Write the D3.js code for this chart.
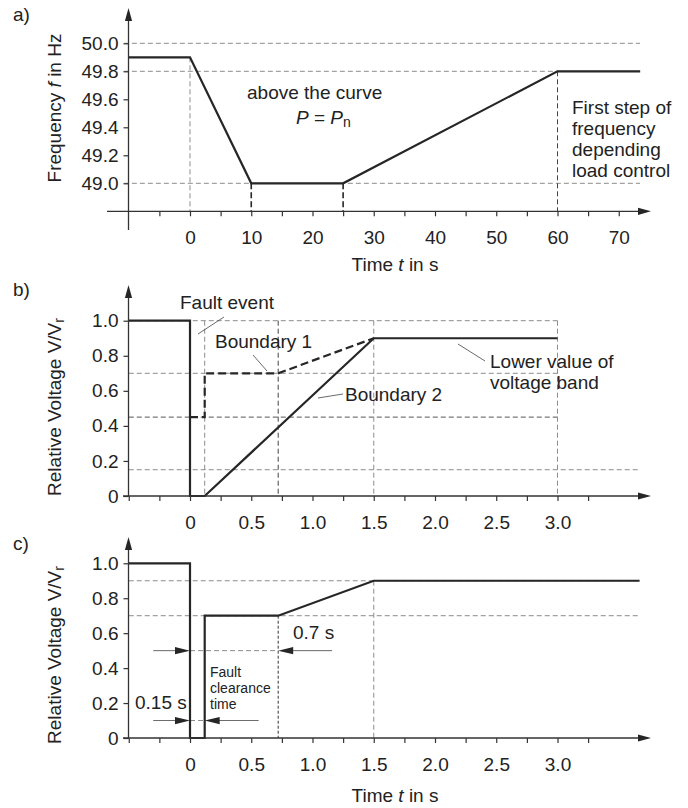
<!DOCTYPE html>
<html>
<head>
<meta charset="utf-8">
<script src="https://cdn.jsdelivr.net/npm/d3@7"></script>
<style>
  body { margin: 0; background: #fff; }
  svg text { font-family: 'Liberation Sans', Arial, sans-serif; fill: #222; }
</style>
</head>
<body>
<svg id="chart" width="688" height="808"></svg>
<script>
// a) frequency
let freqTicks = [49.0, 49.2, 49.4, 49.6, 49.8, 50.0]
let freqTimeTicks = [-5, 0, 5, 10, 15, 20, 25, 30, 35, 40, 45, 50, 55, 60, 65, 70]
let freqTimeLabels = [0, 10, 20, 30, 40, 50, 60, 70]
let freqTime = [-10, 0, 10, 25, 60, 73.5]
let freqValue = [49.9, 49.9, 49.0, 49.0, 49.8, 49.8]
let freqGrid = [50.0, 49.8, 49.0]

// b) boundaries, c) fault clearance
let voltTicks = [0, 0.2, 0.4, 0.6, 0.8, 1.0]
let timeTicks = [-0.5, -0.25, 0, 0.25, 0.5, 0.75, 1, 1.25, 1.5, 1.75, 2, 2.25, 2.5, 2.75, 3, 3.25]
let timeLabels = [0, 0.5, 1, 1.5, 2, 2.5, 3]
let boundary2Time = [-0.5, 0, 0, 0.12, 1.5, 3.0]
let boundary2Value = [1, 1, 0, 0, 0.9, 0.9]
let boundary1Time = [0, 0.12, 0.12, 0.72, 1.5]
let boundary1Value = [0.45, 0.45, 0.7, 0.7, 0.9]
let clearTime = [-0.5, 0, 0, 0.12, 0.12, 0.72, 1.5, 3.67]
let clearValue = [1, 1, 0, 0, 0.7, 0.7, 0.9, 0.9]

let svg = d3.select('#chart')
let ink = '#262626'
let gridColor = '#8c8c8c'
let rightEnd = 640
let fs = 19

let xA = d3.scaleLinear().domain([0, 60]).range([190, 557.5])
let yA = d3.scaleLinear().domain([49, 50]).range([183.3, 43.3])
let xB = d3.scaleLinear().domain([0, 3]).range([190, 557.5])
let yB = d3.scaleLinear().domain([0, 1]).range([496, 320.7])
let yC = d3.scaleLinear().domain([0, 1]).range([738, 563.3])

let oneDec = d3.format('.1f')
let voltFmt = function (d) { return d === 0 ? '0' : oneDec(d) }

function zip (xs, ys) { return xs.map(function (d, i) { return [d, ys[i]] }) }

function hline (x, y, v, t0, t1, color, dash, w) {
  svg.append('line')
    .attr('x1', x(t0)).attr('x2', x(t1))
    .attr('y1', y(v)).attr('y2', y(v))
    .attr('stroke', color).attr('stroke-width', w || 1)
    .attr('stroke-dasharray', dash)
}

function vline (x, y, t, v0, v1, color, dash, w) {
  svg.append('line')
    .attr('x1', x(t)).attr('x2', x(t))
    .attr('y1', y(v0)).attr('y2', y(v1))
    .attr('stroke', color).attr('stroke-width', w || 1)
    .attr('stroke-dasharray', dash)
}

function curve (x, y, pts, dash) {
  svg.append('path')
    .datum(pts)
    .attr('d', d3.line().x(function (d) { return x(d[0]) }).y(function (d) { return y(d[1]) }))
    .attr('fill', 'none')
    .attr('stroke', ink)
    .attr('stroke-width', 2.2)
    .attr('stroke-dasharray', dash)
}

function arrowHead (tipX, tipY, dir, len, half) {
  // dir: 'right', 'left', 'up'
  let p
  if (dir === 'right') p = [[tipX, tipY], [tipX - len, tipY - half], [tipX - len, tipY + half]]
  if (dir === 'left') p = [[tipX, tipY], [tipX + len, tipY - half], [tipX + len, tipY + half]]
  if (dir === 'up') p = [[tipX, tipY], [tipX - half, tipY + len], [tipX + half, tipY + len]]
  svg.append('path').attr('d', 'M' + p.join('L') + 'Z').attr('fill', ink)
}

function axes (x, y, opts) {
  let y0 = y(opts.yBase)
  let gx = svg.append('g')
    .attr('transform', 'translate(0,' + y0 + ')')
    .call(d3.axisBottom(x).tickValues(opts.xTicks).tickSize(5).tickPadding(14.5)
      .tickFormat(function (d) { return opts.xLabels.includes(d) ? opts.xFmt(d) : '' }))
  gx.select('.domain').remove()

  let gy = svg.append('g')
    .attr('transform', 'translate(128.5,0)')
    .call(d3.axisLeft(y).tickValues(opts.yTicks).tickSize(5).tickPadding(5).tickFormat(opts.yFmt))
  gy.select('.domain').remove()

  svg.selectAll('g.tick line').attr('stroke', '#333').attr('stroke-width', 1.2)
  svg.selectAll('g.tick text').attr('font-size', fs).attr('font-family', null).attr('fill', '#222')

  svg.append('line').attr('x1', opts.xStart).attr('x2', 640).attr('y1', y0).attr('y2', y0)
    .attr('stroke', '#333').attr('stroke-width', 1.3)
  arrowHead(651, y0, 'right', 13, 3.6)
  svg.append('line').attr('x1', 128.5).attr('x2', 128.5).attr('y1', opts.yBottom).attr('y2', opts.yTip + 10)
    .attr('stroke', '#333').attr('stroke-width', 1.3)
  arrowHead(128.5, opts.yTip, 'up', 13, 3.6)
}

function label (x, y, parts, size, anchor) {
  let t = svg.append('text').attr('x', x).attr('y', y).attr('font-size', size || fs)
    .attr('text-anchor', anchor || 'start')
  parts.forEach(function (p) {
    let s = t.append('tspan').text(p.text)
    if (p.italic) s.attr('font-style', 'italic')
    if (p.sub) s.attr('font-size', 14).attr('baseline-shift', '-22%')
  })
  return t
}

function leader (x1, y1, x2, y2) {
  svg.append('line').attr('x1', x1).attr('y1', y1).attr('x2', x2).attr('y2', y2)
    .attr('stroke', '#444').attr('stroke-width', 0.8)
}

// ---------- a) ----------
freqGrid.forEach(function (v) {
  hline(xA, yA, v, -10.8, xA.invert(rightEnd), gridColor, '5,3')
})
vline(xA, yA, 0, 49.9, 48.8, gridColor, '5,3')
vline(xA, yA, 60, 49.8, 48.8, '#444', '5,3')
vline(xA, yA, 10, 49.0, 48.8, ink, '6,3', 1.6)
vline(xA, yA, 25, 49.0, 48.8, ink, '6,3', 1.6)
curve(xA, yA, zip(freqTime, freqValue))
axes(xA, yA, {
  xTicks: freqTimeTicks, xLabels: freqTimeLabels, xFmt: d3.format('d'),
  yTicks: freqTicks, yFmt: oneDec, yBase: 48.8, xStart: 107, yBottom: 230, yTip: 8
})

label(13, 21, [{ text: 'a)' }])
label(0, 0, [{ text: 'Frequency ' }, { text: 'f', italic: true }, { text: ' in Hz' }], fs, 'middle')
  .attr('transform', 'translate(61,108) rotate(-90)')
label(395, 271, [{ text: 'Time ' }, { text: 't', italic: true }, { text: ' in s' }], fs, 'middle')
label(247, 99, [{ text: 'above the curve' }])
label(296, 124, [{ text: 'P', italic: true }, { text: ' = ' }, { text: 'P', italic: true }, { text: 'n', sub: true }])
;['First step of', 'frequency', 'depending', 'load control'].forEach(function (s, i) {
  label(572, 114 + i * 21, [{ text: s }])
})

// ---------- b) ----------
;[1.0, 0.7].forEach(function (v) { hline(xB, yB, v, -0.5, 3.0, gridColor, '5,3') })
hline(xB, yB, 0.45, -0.5, 3.0, '#555', '5,3')
hline(xB, yB, 0.15, -0.5, xB.invert(rightEnd), gridColor, '5,3')
;[0.12, 1.5, 3.0].forEach(function (t) { vline(xB, yB, t, 1.0, 0, gridColor, '5,3') })
vline(xB, yB, 0.72, 1.0, 0, '#444', '5,3')
curve(xB, yB, zip(boundary1Time, boundary1Value), '8,4')
curve(xB, yB, zip(boundary2Time, boundary2Value))
axes(xB, yB, {
  xTicks: timeTicks, xLabels: timeLabels, xFmt: voltFmt,
  yTicks: voltTicks, yFmt: voltFmt, yBase: 0, xStart: 123, yBottom: 496, yTip: 285
})

label(13, 296, [{ text: 'b)' }])
label(0, 0, [{ text: 'Relative Voltage V/V' }, { text: 'r', sub: true }], fs, 'middle')
  .attr('transform', 'translate(61,407) rotate(-90)')
label(180, 309, [{ text: 'Fault event' }])
leader(198, 334, 224, 317)
label(215, 348, [{ text: 'Boundary 1' }])
leader(253, 355, 267, 371)
label(345, 401, [{ text: 'Boundary 2' }])
leader(318, 398, 343, 394)
label(490, 368, [{ text: 'Lower value of' }])
label(490, 389, [{ text: 'voltage band' }])
leader(458, 344, 485, 361)

// ---------- c) ----------
;[0.9, 0.7].forEach(function (v) { hline(xB, yC, v, -0.5, xB.invert(rightEnd), gridColor, '5,3') })
vline(xB, yC, 0.72, 0.7, 0, '#333', '3,2')
vline(xB, yC, 1.5, 0.9, 0, gridColor, '5,3')

// dimension arrows: 0.7 s and 0.15 s
let dims = [
  { v: 0.5, t0: 0, t1: 0.72, left: -0.3, right: 1.16 },
  { v: 0.1, t0: 0, t1: 0.12, left: -0.3, right: 0.56 }
]
dims.forEach(function (d) {
  let yy = yC(d.v)
  hline(xB, yC, d.v, d.t0, d.t1, gridColor, '5,3')
  leader(xB(d.left), yy, xB(d.t0) - 14, yy)
  arrowHead(xB(d.t0), yy, 'right', 15, 3.6)
  leader(xB(d.t1) + 14, yy, xB(d.right), yy)
  arrowHead(xB(d.t1), yy, 'left', 15, 3.6)
})
curve(xB, yC, zip(clearTime, clearValue))
axes(xB, yC, {
  xTicks: timeTicks, xLabels: timeLabels, xFmt: voltFmt,
  yTicks: voltTicks, yFmt: voltFmt, yBase: 0, xStart: 123, yBottom: 738, yTip: 537
})

label(13, 550, [{ text: 'c)' }])
label(0, 0, [{ text: 'Relative Voltage V/V' }, { text: 'r', sub: true }], fs, 'middle')
  .attr('transform', 'translate(61,655) rotate(-90)')
label(395, 802, [{ text: 'Time ' }, { text: 't', italic: true }, { text: ' in s' }], fs, 'middle')
label(293, 639, [{ text: '0.7 s' }])
label(135, 709, [{ text: '0.15 s' }])
;['Fault', 'clearance', 'time'].forEach(function (s, i) {
  label(210, 677 + i * 16, [{ text: s }], 14)
})
</script>
</body>
</html>
